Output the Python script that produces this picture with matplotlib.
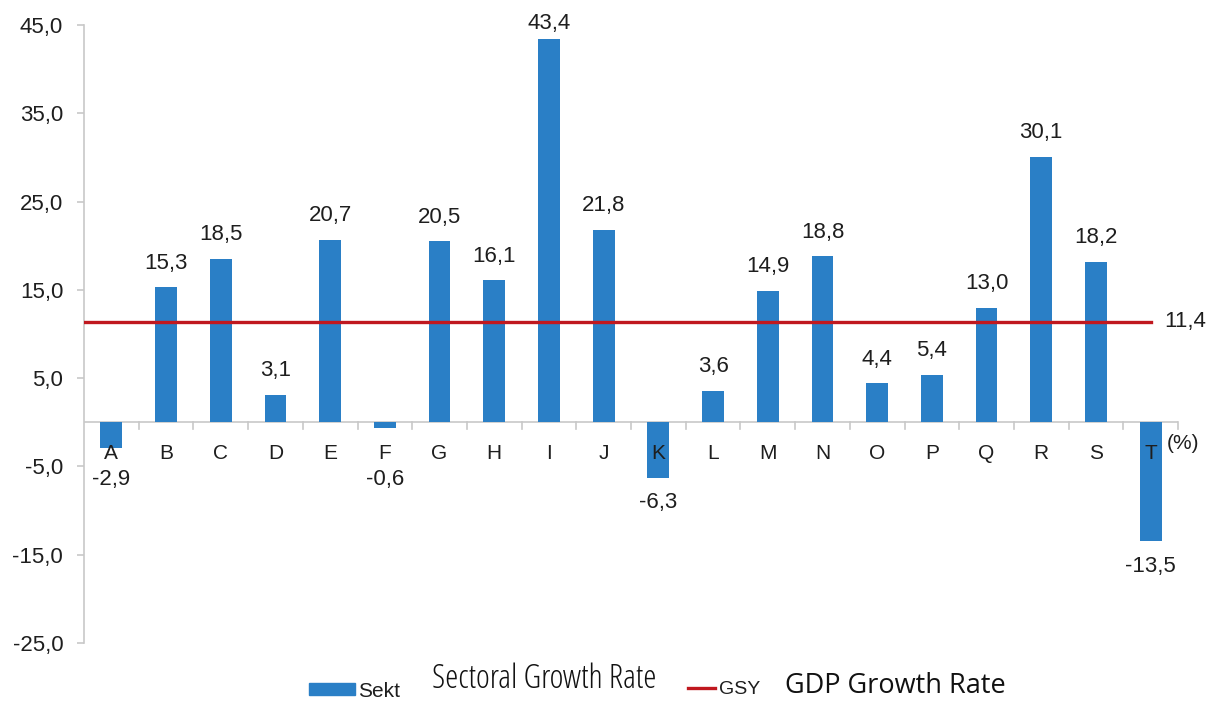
import numpy as np
import matplotlib.pyplot as plt

plt.rcParams['font.family'] = ['Liberation Sans', 'DejaVu Sans']

sectors = list("ABCDEFGHIJKLMNOPQRST")
growth = [-2.9, 15.3, 18.5, 3.1, 20.7, -0.6, 20.5, 16.1, 43.4, 21.8,
          -6.3, 3.6, 14.9, 18.8, 4.4, 5.4, 13.0, 30.1, 18.2, -13.5]
gdp_growth = 11.4
y_ticks = [45, 35, 25, 15, 5, -5, -15, -25]

bar_color = "#2a7fc6"
line_color = "#c0181f"
grey = "#c8c8c8"
txt = "#1e1e1e"


def fmt(v):
    return f"{v:.1f}".replace(".", ",")


fig = plt.figure(figsize=(12.12, 7.02), dpi=100)
ax = fig.add_axes([84 / 1212, 1 - 643 / 702, (1178 - 84) / 1212, (643 - 25) / 702])

x = np.arange(len(sectors))
n = len(sectors)
ax.bar(x, growth, width=0.4, color=bar_color, zorder=2)
ax.plot([-0.5, n - 1], [gdp_growth, gdp_growth], color=line_color, lw=2.4, zorder=3)

ax.set_xlim(-0.5, n - 0.5)
ax.set_ylim(-25, 45)

# y axis on the left, x axis along zero
for s in ["top", "right", "bottom"]:
    ax.spines[s].set_visible(False)
ax.spines["left"].set_color(grey)
ax.spines["left"].set_linewidth(1.2)
ax.axhline(0, color=grey, lw=1.2, zorder=1)

ax.set_yticks(y_ticks)
ax.set_yticklabels([fmt(v) for v in y_ticks], fontsize=16, color=txt)
ax.tick_params(axis="y", length=5, color=grey, width=1.2, pad=10)
ax.set_xticks([])

# boundary tick marks on the zero line
for b in np.arange(0.5, n, 1.0):
    ax.plot([b, b], [0, -0.8], color=grey, lw=1.2, zorder=1, clip_on=False)

# category letters just under the zero line
for xi, s in zip(x, sectors):
    ax.text(xi, -2.45, s, ha="center", va="top", fontsize=15, color=txt, zorder=4)

ax.text(n - 1 + 0.3, -2.4, "(%)", ha="left", va="center", fontsize=15, color=txt)

# value labels
for xi, v in zip(x, growth):
    if v >= 0:
        ax.text(xi, min(v + 2.1, 44.5), fmt(v), ha="center", va="baseline",
                fontsize=16, color=txt)
    else:
        ax.text(xi, min(v - 1.6, -5.3), fmt(v), ha="center", va="top",
                fontsize=16, color=txt)

ax.text(n - 1 + 0.25, gdp_growth, fmt(gdp_growth), ha="left", va="center",
        fontsize=16, color=txt)

# legend drawn by hand along the bottom
fig.patches.append(plt.Rectangle((309 / 1212, 1 - 695 / 702), 46 / 1212, 12 / 702,
                                 transform=fig.transFigure, color=bar_color))
fig.text(358 / 1212, 1 - 697 / 702, "Sekt", fontsize=15, va="baseline", ha="left", color=txt)
fig.text(432 / 1212, 1 - 688 / 702, "Sectoral Growth Rate", fontsize=24, va="baseline", ha="left",
         color="#111111", family=["Open Sans", "DejaVu Sans"], fontstretch="condensed")
fig.lines.append(plt.Line2D([688 / 1212, 715 / 1212], [1 - 688 / 702, 1 - 688 / 702],
                            transform=fig.transFigure, color=line_color, lw=2.4))
fig.text(719 / 1212, 1 - 694 / 702, "GSY", fontsize=14, va="baseline", ha="left", color=txt)
fig.text(785 / 1212, 1 - 693 / 702, "GDP Growth Rate", fontsize=19.5, va="baseline", ha="left",
         color="#111111", family=["Open Sans", "DejaVu Sans"])

fig.savefig("out.png", dpi=100)
